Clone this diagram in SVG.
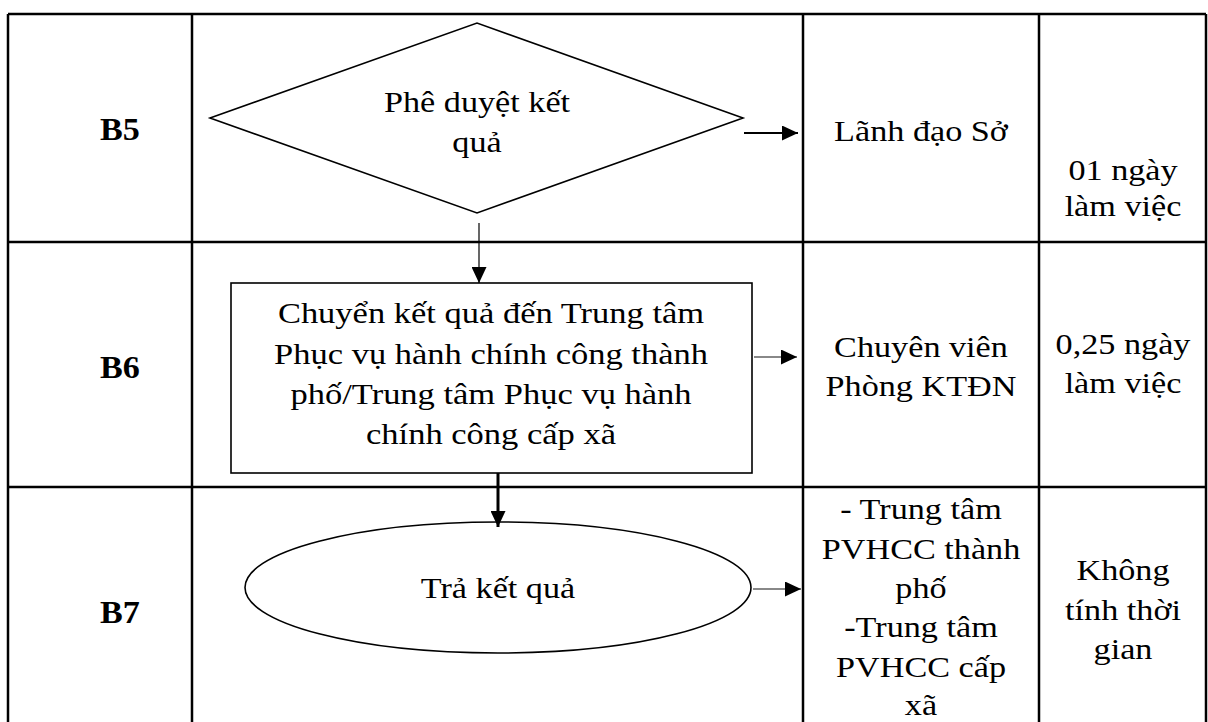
<svg xmlns="http://www.w3.org/2000/svg" width="1208" height="722" viewBox="0 0 1208 722">
<style>
.grid{stroke:#000;stroke-width:2.5;fill:none}
.shape{stroke:#000;stroke-width:1.6;fill:#fff}
.t{font-family:"Liberation Serif","Times New Roman",serif;font-size:30px;fill:#000;text-anchor:middle}
.b{font-weight:bold;font-size:31px}
.conn{fill:none}
</style>
<defs>
<marker id="ah" markerUnits="userSpaceOnUse" markerWidth="16" markerHeight="15" refX="16" refY="7.5" orient="auto"><path d="M0,0 L16,7.5 L0,15 Z" fill="#000"/></marker>
</defs>
<rect width="1208" height="722" fill="#fff"/>
<g id="table" class="grid">
<line x1="8" y1="14" x2="1206" y2="14"/>
<line x1="8" y1="242" x2="1206" y2="242"/>
<line x1="8" y1="487" x2="1206" y2="487"/>
<line x1="8" y1="14" x2="8" y2="722"/>
<line x1="192" y1="14" x2="192" y2="722"/>
<line x1="803" y1="14" x2="803" y2="722"/>
<line x1="1039" y1="14" x2="1039" y2="722"/>
<line x1="1206" y1="14" x2="1206" y2="722"/>
</g>
<g id="labels">
<text class="t b" transform="translate(120 0) scale(1.1 1)" x="0" y="140">B5</text>
<text class="t b" transform="translate(120 0) scale(1.1 1)" x="0" y="378">B6</text>
<text class="t b" transform="translate(120 0) scale(1.1 1)" x="0" y="623">B7</text>
</g>
<g id="node-b5">
<polygon class="shape" points="210,118 477,23 743,118 477,213"/>
<text class="t" transform="translate(477 0) scale(1.14 1)"><tspan x="0" y="112">Phê duyệt kết</tspan><tspan x="0" y="152">quả</tspan></text>
</g>
<g id="node-b6">
<rect class="shape" x="231" y="283" width="521" height="190" stroke="#222"/>
<text class="t" transform="translate(491 0) scale(1.15 1)"><tspan x="0" y="323">Chuyển kết quả đến Trung tâm</tspan><tspan x="0" y="364">Phục vụ hành chính công thành</tspan><tspan x="0" y="404">phố/Trung tâm Phục vụ hành</tspan><tspan x="0" y="444">chính công cấp xã</tspan></text>
</g>
<g id="node-b7">
<ellipse class="shape" cx="498" cy="587.5" rx="253" ry="65.5"/>
<text class="t" transform="translate(498 0) scale(1.14 1)" x="0" y="598">Trả kết quả</text>
</g>
<g id="resp-b5"><text class="t" transform="translate(921 0) scale(1.14 1)" x="0" y="141">Lãnh đạo Sở</text></g>
<g id="time-b5"><text class="t" transform="translate(1123 0) scale(1.14 1)"><tspan x="0" y="180">01 ngày</tspan><tspan x="0" y="216">làm việc</tspan></text></g>
<g id="resp-b6"><text class="t" transform="translate(921 0) scale(1.14 1)"><tspan x="0" y="357">Chuyên viên</tspan><tspan x="0" y="396">Phòng KTĐN</tspan></text></g>
<g id="time-b6"><text class="t" transform="translate(1123 0) scale(1.14 1)"><tspan x="0" y="354">0,25 ngày</tspan><tspan x="0" y="393">làm việc</tspan></text></g>
<g id="resp-b7"><text class="t" transform="translate(921 0) scale(1.14 1)"><tspan x="0" y="519">- Trung tâm</tspan><tspan x="0" y="559">PVHCC thành</tspan><tspan x="0" y="598">phố</tspan><tspan x="0" y="637">-Trung tâm</tspan><tspan x="0" y="677">PVHCC cấp</tspan><tspan x="0" y="715">xã</tspan></text></g>
<g id="time-b7"><text class="t" transform="translate(1123 0) scale(1.14 1)"><tspan x="0" y="580">Không</tspan><tspan x="0" y="620">tính thời</tspan><tspan x="0" y="659">gian</tspan></text></g>
<g id="connectors" class="conn">
<line x1="744" y1="133" x2="798" y2="133" stroke="#000" stroke-width="2" marker-end="url(#ah)"/>
<line x1="479" y1="223" x2="479" y2="283" stroke="#000" stroke-width="1.2" marker-end="url(#ah)"/>
<line x1="498" y1="473" x2="498" y2="527" stroke="#000" stroke-width="3" marker-end="url(#ah)"/>
<line x1="754" y1="357" x2="797" y2="357" stroke="#888" stroke-width="2" marker-end="url(#ah)"/>
<line x1="753" y1="589" x2="801" y2="589" stroke="#888" stroke-width="2" marker-end="url(#ah)"/>
</g>
</svg>
